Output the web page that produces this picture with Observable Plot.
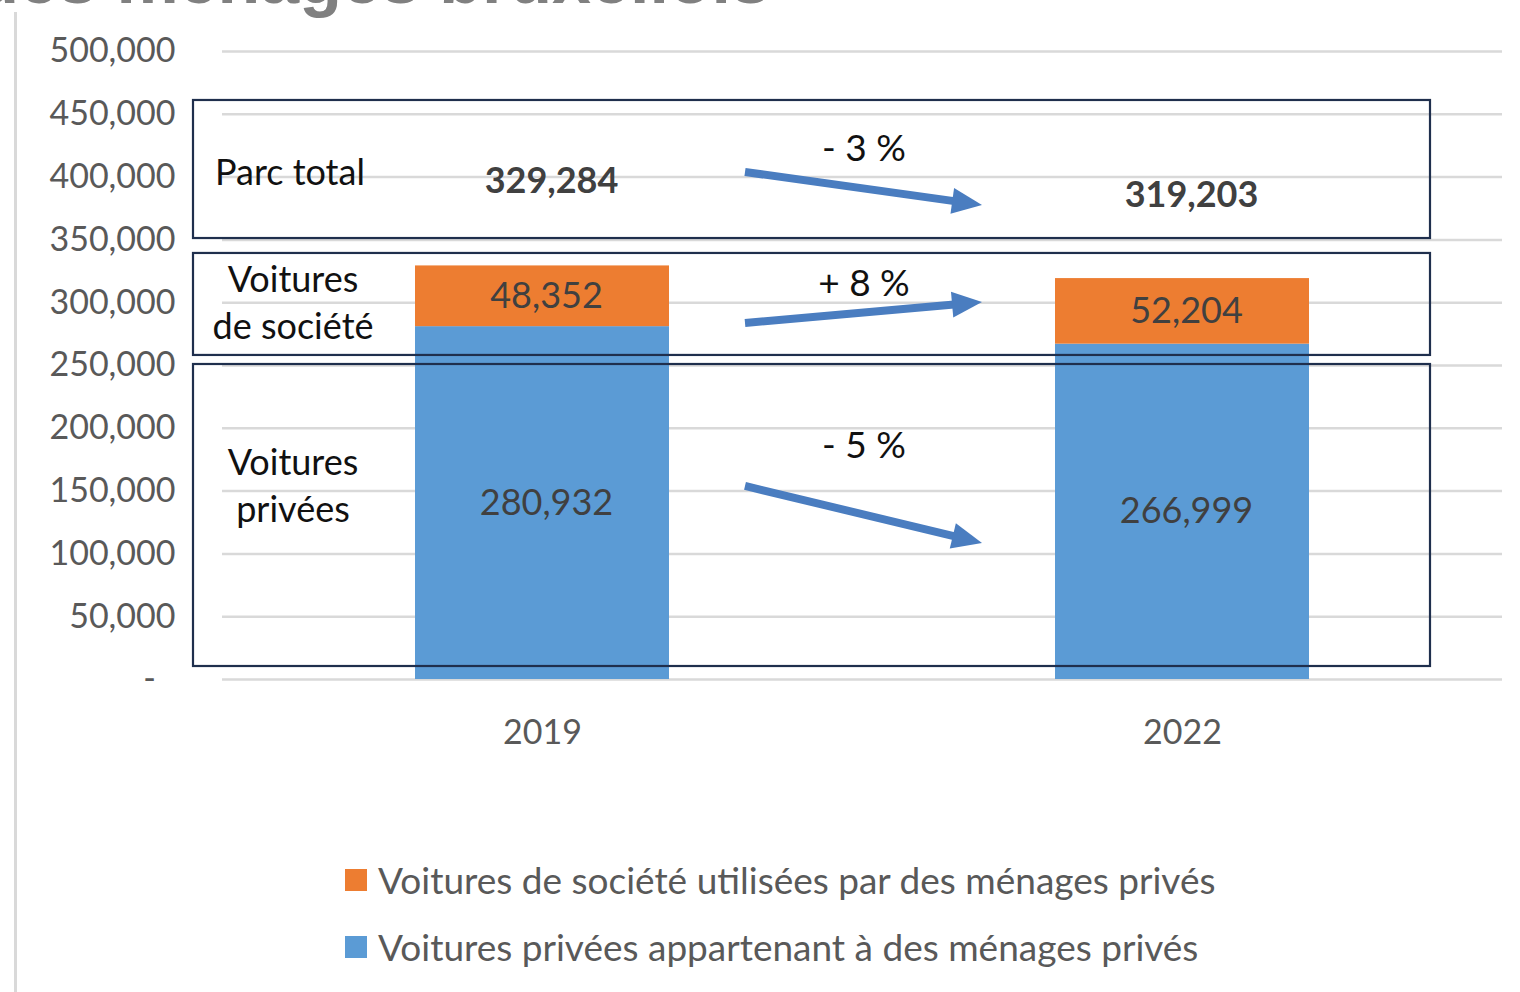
<!DOCTYPE html>
<html><head><meta charset="utf-8">
<script src="https://cdn.jsdelivr.net/npm/d3@7"></script>
<script src="https://cdn.jsdelivr.net/npm/@observablehq/plot@0.6"></script>
<style>
body{margin:0;background:#fff;overflow:hidden;}
#wrap{position:relative;width:1520px;height:992px;overflow:hidden;background:#fff;font-family:Lato,"Open Sans",sans-serif;}
#title{position:absolute;top:-56px;right:750px;font:bold 70px/1 "Liberation Sans",Arial,sans-serif;color:#808080;white-space:nowrap;}
#vline{position:absolute;left:14px;top:12px;width:3px;height:990px;background:#d9d9d9;}
#chart{position:absolute;left:0;top:0;}
#legend{position:absolute;left:345px;top:0;}
.lg{position:absolute;left:0;display:flex;align-items:center;white-space:nowrap;font-size:37px;line-height:44px;color:#595959;}
.sw{width:22px;height:22px;margin-right:11px;flex:none;}
</style></head>
<body><div id="wrap">
<div id="title">Parc automobile des ménages bruxellois</div>
<div id="vline"></div>
<div id="chart"></div>
<div id="legend"></div>
</div>
<script>
// ---- data ----
const years = ["2019", "2022"];
const privees = [280932, 266999];
const societe = [48352, 52204];
const totals = [329284, 319203];
const seriesNames = ["Voitures privées appartenant à des ménages privés", "Voitures de société utilisées par des ménages privés"];
const seriesColors = ["#5b9bd5", "#ed7d31"];
const yTicks = [0, 50000, 100000, 150000, 200000, 250000, 300000, 350000, 400000, 450000, 500000];
const changeLabels = ["- 3 %", "+ 8 %", "- 5 %"];
const boxLabels = [["Parc total"], ["Voitures", "de société"], ["Voitures", "privées"]];
const legendOrder = [1, 0];

// ---- annotation layout (data-unit y positions) ----
const boxY = [[461000, 351100], [339200, 258000], [250800, 10350]];
const totalLabelY = [396500, 385300];
const arrowY = [[403700, 377400], [283400, 300200], [153700, 108300]];
const changeLabelY = [422800, 315300, 186300];
const boxLabelY = [[403700], [318500, 281000], [172800, 135400]];

// ---- derived rows ----
const rows = [];
years.forEach((yr, i) => {
  rows.push({year: yr, series: seriesNames[0], value: privees[i], mid: privees[i] / 2});
  rows.push({year: yr, series: seriesNames[1], value: societe[i], mid: privees[i] + societe[i] / 2});
});
const totalRows = years.map((yr, i) => ({year: yr, label: d3.format(",")(totals[i]), y: totalLabelY[i]}));

function annotations(index, scales, values, dim) {
  const x = scales.x, y = scales.y;
  const bw = typeof x.bandwidth === "function" ? x.bandwidth() : (x.bandwidth || 0);
  const cx = d => x(d) + bw / 2;
  const mid = (cx(years[0]) + cx(years[1])) / 2;
  const g = d3.create("svg:g");
  const left = dim.marginLeft - 29, right = dim.width - dim.marginRight - 72;
  boxY.forEach(([t, b]) => {
    g.append("rect").attr("x", left).attr("y", y(t)).attr("width", right - left).attr("height", y(b) - y(t))
      .attr("fill", "none").attr("stroke", "#1f2f4d").attr("stroke-width", 2.2);
  });
  arrowY.forEach(([a, b]) => {
    const x1 = mid - 117, y1 = y(a), x2 = mid + 120, y2 = y(b);
    const dx = x2 - x1, dy = y2 - y1, L = Math.hypot(dx, dy);
    const ux = dx / L, uy = dy / L, nx = -uy, ny = ux;
    const hl = 30, hw = 13;
    const bx = x2 - ux * hl, by = y2 - uy * hl;
    g.append("line").attr("x1", x1).attr("y1", y1).attr("x2", bx + ux * 2).attr("y2", by + uy * 2)
      .attr("stroke", "#4a7dc0").attr("stroke-width", 8);
    g.append("path").attr("d", `M${x2},${y2}L${bx + nx * hw},${by + ny * hw}L${bx - nx * hw},${by - ny * hw}Z`)
      .attr("fill", "#4a7dc0");
  });
  changeLabels.forEach((t, i) => {
    g.append("text").attr("x", mid + 2).attr("y", y(changeLabelY[i])).attr("dy", "0.35em")
      .attr("text-anchor", "middle").attr("font-size", 37).attr("fill", "#111").text(t);
  });
  boxLabels.forEach((lines, i) => {
    lines.forEach((t, j) => {
      const single = lines.length === 1;
      g.append("text").attr("x", single ? left + 22 : left + 100).attr("y", y(boxLabelY[i][j])).attr("dy", "0.35em")
        .attr("text-anchor", single ? "start" : "middle").attr("font-size", 36).attr("fill", "#111").text(t);
    });
  });
  return g.node();
}

const fmt = d => d === 0 ? "-\u2007" : d3.format(",")(d);

const chart = Plot.plot({
  width: 1520, height: 780,
  marginLeft: 222, marginRight: 18, marginTop: 51, marginBottom: 101,
  style: {fontFamily: "Lato, 'Open Sans', sans-serif", background: "transparent", overflow: "visible"},
  x: {domain: years, paddingInner: 0.603, paddingOuter: 0.3015, label: null},
  y: {domain: [0, 500000], label: null},
  color: {domain: seriesNames, range: seriesColors},
  marks: [
    Plot.gridY(yTicks, {stroke: "#d9d9d9", strokeOpacity: 1, strokeWidth: 2.5}),
    Plot.axisY(yTicks, {tickSize: 0, tickPadding: 47, tickFormat: fmt, fontSize: 34, fill: "#595959", label: null}),
    Plot.axisX({tickSize: 0, tickPadding: 40, fontSize: 34, fill: "#595959", label: null}),
    Plot.barY(rows, {x: "year", y: "value", fill: "series"}),
    Plot.text(rows, {x: "year", y: "mid", text: d => d3.format(",")(d.value), fontSize: 36, fill: "#404040", dx: 4}),
    Plot.text(totalRows, {x: "year", y: "y", text: "label", fontSize: 36, fontWeight: "bold", fill: "#404040", dx: 9}),
    annotations
  ]
});
document.getElementById("chart").appendChild(chart);

const legend = document.getElementById("legend");
legendOrder.forEach((si, k) => {
  const row = document.createElement("div");
  row.className = "lg";
  row.style.top = (858 + k * 67) + "px";
  row.innerHTML = `<span class="sw" style="background:${seriesColors[si]}"></span><span>${seriesNames[si]}</span>`;
  legend.appendChild(row);
});
</script>
</body></html>
